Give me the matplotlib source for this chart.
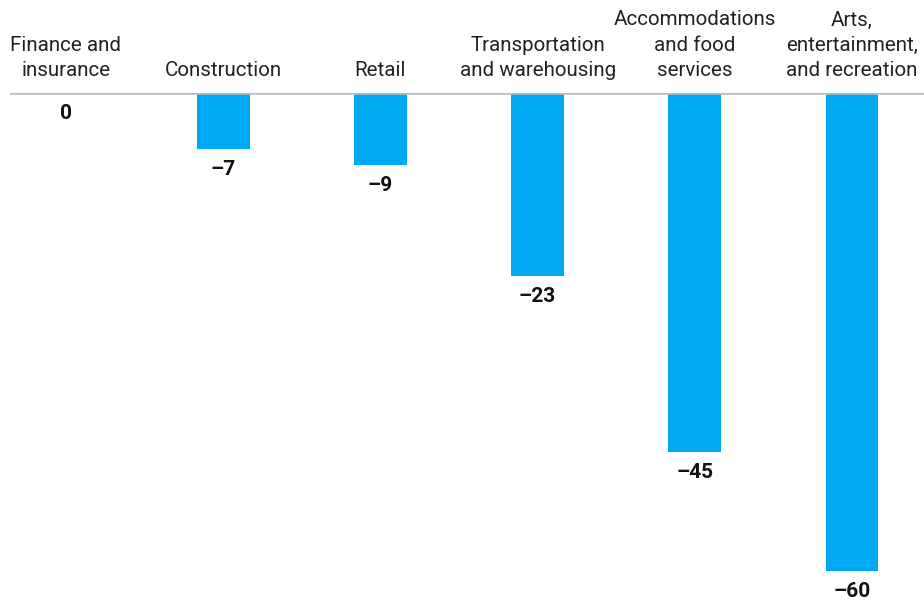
import matplotlib
matplotlib.use("Agg")
import matplotlib.pyplot as plt
from matplotlib.transforms import offset_copy

categories = [
    "Finance and\ninsurance",
    "Construction",
    "Retail",
    "Transportation\nand warehousing",
    "Accommodations\nand food\nservices",
    "Arts,\nentertainment,\nand recreation",
]
values = [0, -7, -9, -23, -45, -60]
value_labels = ["0", "–7", "–9", "–23", "–45", "–60"]

BAR_COLOR = "#00A9F4"
TEXT_COLOR = "#222222"
plt.rcParams["font.family"] = ["Roboto", "DejaVu Sans"]

W, H = 924, 601
fig = plt.figure(figsize=(W / 100, H / 100), dpi=100)
ax = fig.add_axes([10 / W, (H - 571) / H, 914 / W, 478 / H])

x = list(range(len(categories)))
ax.bar(x, values, width=0.337, color=BAR_COLOR, zorder=2)
ax.axhline(0, color="#bdbdbd", linewidth=1.8, zorder=3)

ax.set_xlim(-0.356, 5.458)
ax.set_ylim(-60, 0)
ax.axis("off")

for xi, cat in zip(x, categories):
    t = offset_copy(ax.transData, fig=fig, x=0, y=13, units="dots")
    ax.text(xi, 0, cat, transform=t, ha="center", va="bottom",
            fontsize=14.8, color=TEXT_COLOR, linespacing=1.42, clip_on=False)

for xi, v, lab in zip(x, values, value_labels):
    t = offset_copy(ax.transData, fig=fig, x=0, y=-11, units="dots")
    ax.text(xi, v, lab, transform=t, ha="center", va="top",
            fontsize=15, fontweight="bold", color="#111111", clip_on=False)

fig.savefig("out.png", dpi=100)
